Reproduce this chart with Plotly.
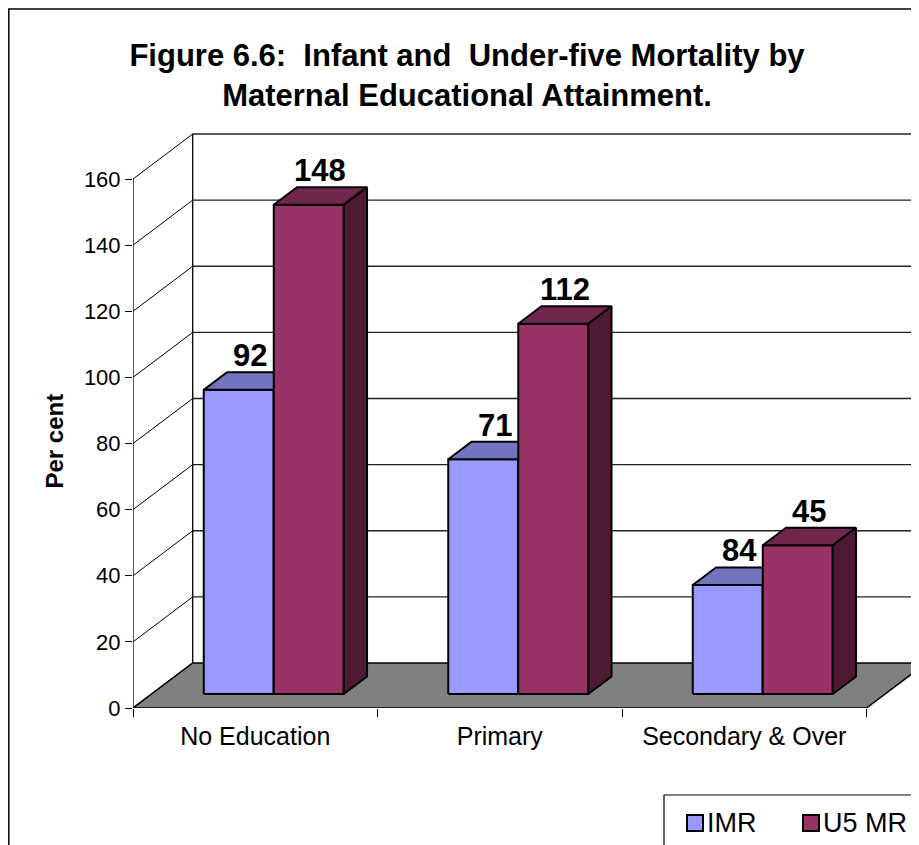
import plotly.graph_objects as go

# ---------------- data ----------------
categories = ["No Education", "Primary", "Secondary & Over"]
series_names = ["IMR", "U5 MR"]
imr_values = [92, 71, 33]
u5mr_values = [148, 112, 45]
imr_labels = ["92", "71", "84"]
u5mr_labels = ["148", "112", "45"]
y_tick_values = [0, 20, 40, 60, 80, 100, 120, 140, 160]

# ---------------- styling / layout ----------------
FONT = "Arial, 'Liberation Sans', sans-serif"
OFF = 8                        # page body margin
W, H = 919 - OFF, 845 - OFF
L = 133 - OFF
R = 0
T = 120 - OFF
B = H - (708 - OFF)
plot_w = W - L - R
plot_h = H - T - B
cat_px = 244.5                 # pixel width of one category in the front plane
y_px_per_unit = 529 / 160.0
x_range = [-0.5, -0.5 + plot_w / cat_px]
y_range = [0, plot_h / y_px_per_unit]

DX = 59.7 / cat_px            # depth offset (x units)
DY = 45.0 / y_px_per_unit     # depth offset (y units)
D0, D1 = 0.31, 0.70           # bar depth span (fraction of floor depth)
BAR_W = 70 / cat_px

front_cols = ["#9999FF", "#993366"]
top_cols = ["#7373BF", "#73264D"]
side_cols = ["#5C5C99", "#4D1933"]

def xp(px):   # px given in window coordinates
    return (px - OFF - L) / plot_w

def yp(py):
    return (H - B - (py - OFF)) / plot_h

fig = go.Figure()

def poly(xs, ys, fill, lw=1.0, color="black"):
    fig.add_trace(go.Scatter(
        x=xs + [xs[0]], y=ys + [ys[0]], mode="lines", fill="toself",
        fillcolor=fill, line=dict(color=color, width=lw),
        hoverinfo="skip", showlegend=False))

def line(xs, ys, lw=1.0, color="black"):
    fig.add_trace(go.Scatter(
        x=xs, y=ys, mode="lines", line=dict(color=color, width=lw),
        hoverinfo="skip", showlegend=False))

x_left = -0.5
x_right = -0.5 + len(categories)
top_val = y_tick_values[-1]

# side wall diagonals and back wall gridlines
for v in y_tick_values:
    line([x_left, x_left + DX], [v, v + DY], lw=1)
    if v > 0:
        line([x_left + DX, x_right + DX], [v + DY, v + DY], lw=1.3, color="#222222")
# back wall left edge
line([x_left + DX, x_left + DX], [DY, top_val + DY], lw=1.3)

# floor
poly([x_left, x_right, x_right + DX, x_left + DX], [0, 0, DY, DY], "#808080", lw=1.5)

# front axis line
line([x_left, x_left], [0, top_val], lw=1.3)

# bars
dd = D1 - D0
annots = []
for i in range(len(categories)):
    for s, (vals, labs) in enumerate([(imr_values, imr_labels), (u5mr_values, u5mr_labels)]):
        v = vals[i]
        x0 = i - BAR_W + s * BAR_W + D0 * DX
        x1 = x0 + BAR_W
        yb = D0 * DY
        yt = yb + v
        poly([x0, x1, x1, x0], [yb, yb, yt, yt], front_cols[s], lw=2)
        poly([x0, x1, x1 + dd * DX, x0 + dd * DX],
             [yt, yt, yt + dd * DY, yt + dd * DY], top_cols[s], lw=2)
        poly([x1, x1 + dd * DX, x1 + dd * DX, x1],
             [yb, yb + dd * DY, yt + dd * DY, yt], side_cols[s], lw=2)
        annots.append(dict(
            x=x0 + BAR_W / 2 + dd * DX / 2, y=yt + dd * DY,
            xref="x", yref="y", text="<b>" + labs[i] + "</b>",
            showarrow=False, yanchor="bottom", yshift=-3,
            font=dict(family=FONT, size=31, color="black")))

# y axis title
annots.append(dict(x=xp(38), y=yp(441), xref="paper", yref="paper",
                   text="<b>Per cent</b>", textangle=-90, showarrow=False,
                   font=dict(family=FONT, size=24, color="black")))

# border and custom legend
shapes = [
    dict(type="rect", xref="paper", yref="paper", x0=xp(8.8), y0=yp(9), x1=xp(940), y1=yp(870),
         line=dict(color="black", width=1.5), fillcolor="rgba(0,0,0,0)", layer="below"),
    dict(type="rect", xref="paper", yref="paper", x0=xp(664), y0=yp(795), x1=xp(940), y1=yp(870),
         line=dict(color="black", width=1.2), fillcolor="white"),
]
legend_sq_px = [687, 803]
for k, name in enumerate(series_names):
    sx = legend_sq_px[k]
    shapes.append(dict(type="rect", xref="paper", yref="paper",
                       x0=xp(sx), x1=xp(sx + 16), y0=yp(815), y1=yp(831),
                       fillcolor=front_cols[k], line=dict(color="black", width=2)))
    annots.append(dict(x=xp(sx + 18), y=yp(823), xref="paper", yref="paper",
                       text=name, showarrow=False, xanchor="left", yanchor="middle",
                       font=dict(family=FONT, size=27, color="black")))

fig.update_layout(
    width=W, height=H,
    margin=dict(l=L, r=R, t=T, b=B, pad=0),
    paper_bgcolor="white", plot_bgcolor="white",
    showlegend=False,
    title=dict(text="<b>Figure 6.6:  Infant and  Under-five Mortality by<br>Maternal Educational Attainment.</b>",
               x=(467 - OFF) / W, y=1 - (66 - OFF) / H, xref="container", yref="container",
               xanchor="center", yanchor="middle",
               font=dict(family=FONT, size=31, color="black")),
    xaxis=dict(range=x_range, showgrid=False, zeroline=False, showline=False,
               tickvals=list(range(len(categories))), ticktext=categories,
               ticks="", tickfont=dict(family=FONT, size=25, color="black"),
               ticklabelstandoff=11,
               minor=dict(tickvals=[x_left + k for k in range(len(categories) + 1)],
                          ticks="outside", ticklen=8, tickcolor="black", tickwidth=1,
                          showgrid=False),
               fixedrange=True),
    yaxis=dict(range=y_range, showgrid=False, zeroline=False, showline=False,
               tickvals=y_tick_values, ticks="outside", ticklen=7, tickcolor="black",
               tickwidth=1, tickfont=dict(family=FONT, size=22, color="black"),
               fixedrange=True),
    shapes=shapes,
    annotations=annots,
)

fig.write_html("out.html")
